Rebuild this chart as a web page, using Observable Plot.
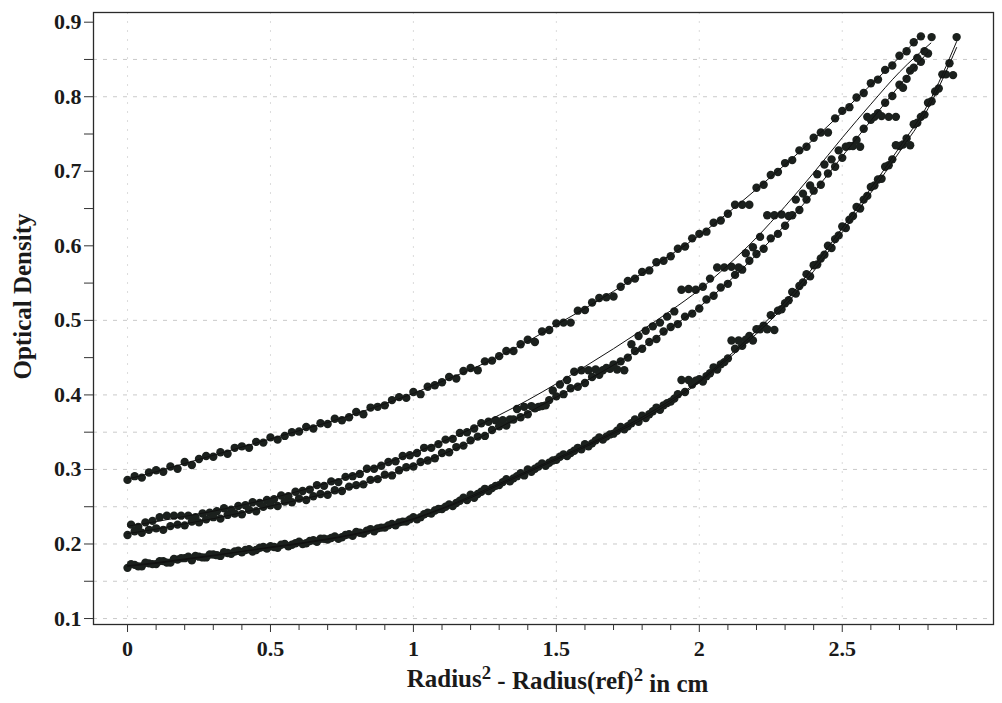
<!DOCTYPE html>
<html><head><meta charset="utf-8">
<script src="https://cdn.jsdelivr.net/npm/d3@7"></script>
<script src="https://cdn.jsdelivr.net/npm/@observablehq/plot@0.6"></script>
<style>html,body{margin:0;padding:0;background:#fff;}</style>
</head><body><div id="chart"></div>
<script>
// radial step between scan points (cm^2)
const xStep = 0.025;

// Series A (top), x starts at 0
const odA = [
0.286,0.291,0.289,0.296, 0.299,0.297,0.304,0.301, 0.310,0.306,0.314,0.318, 0.317,0.323,0.321,0.329,
0.331,0.329,0.337,0.336, 0.343,0.340,0.345,0.350, 0.351,0.357,0.355,0.362, 0.361,0.368,0.366,0.370,
0.377,0.374,0.383,0.384, 0.386,0.393,0.397,0.396, 0.404,0.401,0.411,0.413, 0.417,0.424,0.422,0.432,
0.436,0.433,0.445,0.446, 0.452,0.459,0.459,0.468, 0.474,0.471,0.485,0.487, 0.496,0.497,0.497,0.513,
0.514,0.524,0.530,0.531, 0.532,0.545,0.553,0.556, 0.565,0.567,0.578,0.580, 0.586,0.596,0.599,0.610,
0.616,0.619,0.631,0.634, 0.643,0.655,0.655,0.655, 0.678,0.682,0.695,0.699, 0.711,0.715,0.728,0.733,
0.745,0.752,0.752,0.771, 0.781,0.786,0.799,0.805, 0.818,0.823,0.836,0.842, 0.855,0.861,0.873,0.881
];
// Series B (upper middle), x starts at 0.0125
const odB = [
0.226,0.223,0.229,0.231, 0.236,0.238,0.238,0.238, 0.238,0.236,0.241,0.242, 0.244,0.248,0.246,0.251,
0.252,0.256,0.255,0.259, 0.260,0.265,0.264,0.270, 0.271,0.273,0.279,0.278, 0.284,0.283,0.290,0.291,
0.294,0.301,0.301,0.305, 0.310,0.311,0.318,0.319, 0.322,0.329,0.329,0.334, 0.340,0.341,0.349,0.350,
0.355,0.362,0.364,0.366, 0.366,0.367,0.381,0.384, 0.385,0.384,0.386,0.406, 0.414,0.420,0.431,0.433,
0.433,0.434,0.433,0.435, 0.434,0.433,0.468,0.479, 0.486,0.492,0.497,0.505, 0.512,0.541,0.542,0.541,
0.545,0.556,0.571,0.571, 0.572,0.571,0.590,0.598, 0.612,0.641,0.641,0.642, 0.640,0.662,0.670,0.681,
0.696,0.709,0.716,0.728, 0.733,0.734,0.733,0.773, 0.773,0.774,0.773,0.773, 0.812,0.835,0.852,0.861,
0.880
];
// Series C (lower middle), x starts at 0
const odC = [
0.212,0.217,0.215,0.219, 0.221,0.219,0.224,0.226, 0.225,0.230,0.229,0.233, 0.236,0.234,0.239,0.241,
0.240,0.246,0.244,0.250, 0.252,0.251,0.257,0.256, 0.261,0.259,0.264,0.267, 0.266,0.272,0.271,0.277,
0.279,0.280,0.286,0.287, 0.293,0.292,0.299,0.303, 0.304,0.310,0.312,0.315, 0.322,0.323,0.330,0.332,
0.339,0.344,0.345,0.353, 0.358,0.359,0.367,0.370, 0.374,0.382,0.385,0.393, 0.398,0.401,0.409,0.411,
0.416,0.424,0.427,0.436, 0.441,0.445,0.450,0.459, 0.462,0.471,0.475,0.485, 0.491,0.495,0.505,0.509,
0.516,0.528,0.533,0.544, 0.549,0.561,0.568,0.580, 0.589,0.596,0.610,0.616, 0.627,0.641,0.648,0.662,
0.674,0.682,0.697,0.706, 0.718,0.734,0.742,0.757, 0.769,0.778,0.792,0.801, 0.816,0.824,0.839,0.847,
0.858
];
// Series D (bottom), x starts at 0
const odD = [
0.168,0.172,0.170,0.174, 0.173,0.177,0.175,0.179, 0.181,0.178,0.183,0.182, 0.186,0.184,0.188,0.190,
0.189,0.193,0.192,0.196, 0.197,0.195,0.200,0.199, 0.203,0.201,0.205,0.207, 0.206,0.210,0.209,0.213,
0.216,0.214,0.220,0.221, 0.222,0.227,0.229,0.230, 0.236,0.236,0.242,0.245, 0.247,0.253,0.255,0.262,
0.266,0.267,0.274,0.275, 0.279,0.287,0.288,0.295, 0.300,0.301,0.308,0.309, 0.313,0.320,0.322,0.329,
0.334,0.335,0.343,0.344, 0.348,0.357,0.358,0.367, 0.372,0.374,0.383,0.386, 0.391,0.401,0.404,0.414,
0.421,0.425,0.437,0.441, 0.449,0.462,0.466,0.479, 0.488,0.493,0.507,0.513, 0.523,0.538,0.546,0.562,
0.574,0.583,0.600,0.609, 0.626,0.635,0.652,0.662, 0.679,0.689,0.706,0.716, 0.734,0.744,0.763,0.773,
0.792,0.807,0.830,0.845, 0.880
];
// Series E (bottom, second run), x starts at 0.0125
const odE = [
0.173,0.170,0.175,0.173, 0.177,0.175,0.180,0.181, 0.183,0.184,0.182,0.186, 0.185,0.189,0.187,0.191,
0.192,0.190,0.195,0.194, 0.196,0.199,0.197,0.201, 0.200,0.204,0.203,0.207, 0.208,0.207,0.212,0.211,
0.215,0.218,0.217,0.222, 0.225,0.225,0.230,0.233, 0.233,0.240,0.241,0.247, 0.250,0.251,0.258,0.259,
0.262,0.270,0.271,0.278, 0.283,0.284,0.291,0.292, 0.297,0.304,0.305,0.312, 0.317,0.318,0.325,0.327,
0.331,0.339,0.340,0.347, 0.352,0.354,0.362,0.364, 0.369,0.378,0.380,0.389, 0.395,0.420,0.420,0.419,
0.418,0.429,0.434,0.444, 0.473,0.473,0.474,0.473, 0.488,0.488,0.487,0.515, 0.527,0.536,0.551,0.559,
0.575,0.588,0.597,0.614, 0.624,0.640,0.650,0.667, 0.681,0.690,0.708,0.735, 0.736,0.735,0.765,0.776,
0.794,0.811,0.830,0.829
];

// fitted curves (read at 0.1 steps)
const fitGrid = [0,0.1,0.2,0.3,0.4,0.5,0.6,0.7,0.8,0.9,1,1.1,1.2,1.3,1.4,1.5,1.6,1.7,1.8,1.9,2,2.1,2.2,2.3,2.4,2.5,2.6,2.7,2.8,2.9];
const fitAx = [...fitGrid.slice(0, 28), 2.775];
const fitAy = [0.287,0.297,0.308,0.319,0.330,0.341,0.352,0.363,0.375,0.388,0.402,0.418,0.434,0.452,0.472,0.494,0.516,0.539,0.563,0.588,0.614,0.644,0.676,0.709,0.743,0.779,0.816,0.853,0.882];
const fitBx = [...fitGrid.slice(0, 28), 2.81];
const fitBy = [0.224,0.230,0.237,0.244,0.252,0.261,0.271,0.282,0.294,0.308,0.322,0.337,0.354,0.373,0.393,0.415,0.438,0.462,0.487,0.513,0.541,0.574,0.611,0.653,0.698,0.745,0.790,0.833,0.872];
const fitCx = fitGrid.slice(0, 29);
const fitCy = [0.214,0.220,0.227,0.234,0.242,0.251,0.259,0.268,0.278,0.291,0.305,0.320,0.337,0.356,0.376,0.397,0.418,0.440,0.464,0.490,0.518,0.551,0.588,0.628,0.672,0.720,0.768,0.815,0.860];
const fitDx = fitGrid;
const fitDy = [0.170,0.174,0.179,0.184,0.190,0.196,0.201,0.207,0.214,0.223,0.234,0.248,0.264,0.281,0.298,0.315,0.332,0.350,0.370,0.393,0.419,0.451,0.486,0.525,0.572,0.624,0.677,0.732,0.790,0.874];
const fitEx = fitGrid;
const fitEy = [0.171,0.175,0.180,0.185,0.190,0.195,0.200,0.206,0.213,0.222,0.233,0.247,0.262,0.279,0.296,0.313,0.330,0.348,0.367,0.390,0.417,0.448,0.482,0.520,0.566,0.618,0.671,0.726,0.784,0.866];

// axis ticks
const xMajor = [0, 0.5, 1, 1.5, 2, 2.5];
const xMinor = [0.1,0.2,0.3,0.4,0.6,0.7,0.8,0.9,1.1,1.2,1.3,1.4,1.6,1.7,1.8,1.9,2.1,2.2,2.3,2.4,2.6,2.7,2.8,2.9];
const yMajor = [0.1,0.2,0.3,0.4,0.5,0.6,0.7,0.8,0.9];
const yMinor = [0.15,0.25,0.35,0.45,0.55,0.65,0.75,0.85];
const yGrid = [0.1,0.15,0.2,0.25,0.3,0.35,0.4,0.5,0.8,0.85];
const xGrid = [0, 0.5, 1, 1.5, 2, 2.5];

const yLabel = "Optical Density";
const xLabel = "Radius\u00B2 - Radius(ref)\u00B2 in cm";

const runs = [
  {k: "A", x0: 0, od: odA},
  {k: "B", x0: 0.0125, od: odB},
  {k: "C", x0: 0, od: odC},
  {k: "D", x0: 0, od: odD},
  {k: "E", x0: 0.0125, od: odE}
];
const points = runs.flatMap(r => r.od.map((v, i) => ({k: r.k, x: r.x0 + i * xStep, y: v})));
const fitsDef = [
  {k: "A", xs: fitAx, ys: fitAy},
  {k: "B", xs: fitBx, ys: fitBy},
  {k: "C", xs: fitCx, ys: fitCy},
  {k: "D", xs: fitDx, ys: fitDy},
  {k: "E", xs: fitEx, ys: fitEy}
];
const fits = fitsDef.flatMap(f => f.xs.map((x, i) => ({k: f.k, x, y: f.ys[i]})));

const font = "'Liberation Serif', 'Times New Roman', serif";
const chart = Plot.plot({
  width: 1002, height: 703,
  marginLeft: 93, marginRight: 9, marginTop: 12, marginBottom: 79,
  x: {domain: [-0.119, 3.029]},
  y: {domain: [0.092, 0.913]},
  style: {fontFamily: font, fontWeight: "bold", fontSize: "22px", color: "#1a1a1a", background: "#fff"},
  marks: [
    Plot.ruleY(yGrid, {stroke: "#8a8a8a", strokeOpacity: 0.45, strokeDasharray: "4,6"}),
    Plot.ruleX(xGrid, {stroke: "#8a8a8a", strokeOpacity: 0.3, strokeDasharray: "2,7"}),
    Plot.frame({stroke: "#2a2a2a", strokeWidth: 1.3}),
    Plot.axisY(yMinor, {tickSize: 9, tickFormat: () => "", label: null, stroke: "#333"}),
    Plot.axisY(yMajor, {tickSize: 9, tickPadding: 3, tickFormat: d3.format(".1f"), label: null, stroke: "#333", fontSize: 22}),
    Plot.axisX(xMinor, {tickSize: 6, tickFormat: () => "", label: null, stroke: "#333"}),
    Plot.axisX(xMajor, {tickSize: 8, tickPadding: 8, tickFormat: d => String(d), label: null, stroke: "#333", fontSize: 22}),
    Plot.dot(points, {x: "x", y: "y", r: 4.2, fill: "#1b201d", stroke: null}),
    Plot.line(fits, {x: "x", y: "y", z: "k", stroke: "#111", strokeWidth: 1, curve: "monotone-x"}),
    Plot.text([yLabel], {frameAnchor: "left", textAnchor: "middle", rotate: -90, dx: -71, dy: -22, fontSize: 25, fontWeight: "bold", fontFamily: font, fill: "#1a1a1a"}),
    Plot.text([xLabel], {frameAnchor: "bottom", textAnchor: "middle", dx: 14, dy: 62, fontSize: 25, fontWeight: "bold", fontFamily: font, fill: "#1a1a1a"})
  ]
});
document.getElementById("chart").appendChild(chart);

// render the squared signs as real superscripts
d3.select(chart).selectAll("text").filter(function() { return this.textContent === xLabel; }).each(function() {
  const t = d3.select(this);
  t.text(null);
  const parts = xLabel.split("\u00B2");
  t.append("tspan").text(parts[0]);
  t.append("tspan").attr("dy", "-0.42em").attr("font-size", "0.75em").text("2");
  t.append("tspan").attr("dy", "0.42em").text(parts[1]);
  t.append("tspan").attr("dy", "-0.42em").attr("font-size", "0.75em").text("2");
  t.append("tspan").attr("dy", "0.42em").text(parts[2]);
});
</script>
</body></html>
